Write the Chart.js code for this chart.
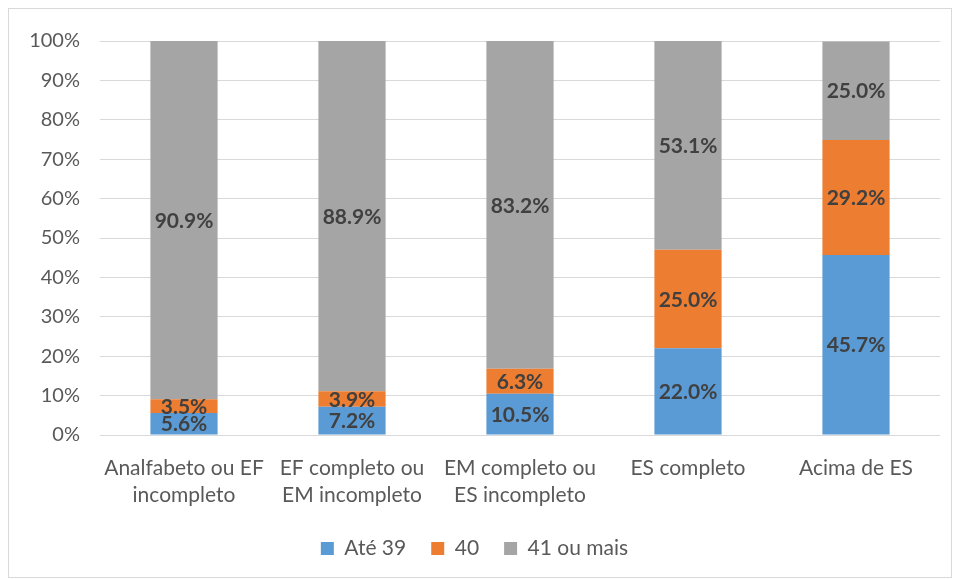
<!DOCTYPE html>
<html>
<head>
<meta charset="utf-8">
<script src="https://cdn.jsdelivr.net/npm/chart.js@4"></script>
<style>
  body { margin: 0; background: #fff; }
  #box { position: absolute; left: 8px; top: 8px; width: 942px; height: 568px; border: 1px solid #d9d9d9; }
</style>
</head>
<body>
<div id="box"><canvas id="grafico" width="942" height="568"></canvas></div>
<script>
// categorias e series
const categorias = [
  ["Analfabeto ou EF", "incompleto"],
  ["EF completo ou", "EM incompleto"],
  ["EM completo ou", "ES incompleto"],
  "ES completo",
  "Acima de ES"
];
const ate39 = [5.6, 7.2, 10.5, 22.0, 45.7];
const quarenta = [3.5, 3.9, 6.3, 25.0, 29.2];
const mais41 = [90.9, 88.9, 83.2, 53.1, 25.0];
const ticksY = [0, 10, 20, 30, 40, 50, 60, 70, 80, 90, 100];

const fonte = 'Lato, "Liberation Sans", sans-serif';

// rotulos dentro das barras
const rotulos = {
  id: "rotulos",
  afterDatasetsDraw(chart) {
    const ctx = chart.ctx;
    ctx.save();
    ctx.font = "bold 21px " + fonte;
    ctx.fillStyle = "#404040";
    ctx.textAlign = "center";
    ctx.textBaseline = "middle";
    chart.data.datasets.forEach((ds, i) => {
      chart.getDatasetMeta(i).data.forEach((bar, j) => {
        const y = (bar.y + bar.base) / 2;
        ctx.fillText(ds.data[j].toFixed(1) + "%", bar.x, y + 1);
      });
    });
    ctx.restore();
  }
};

new Chart(document.getElementById("grafico").getContext("2d"), {
  type: "bar",
  data: {
    labels: categorias,
    datasets: [
      { label: "Até 39", data: ate39, backgroundColor: "#5B9BD5" },
      { label: "40", data: quarenta, backgroundColor: "#ED7D31" },
      { label: "41 ou mais", data: mais41, backgroundColor: "#A5A5A5" }
    ]
  },
  options: {
    responsive: false,
    animation: false,
    layout: { padding: { top: 31, right: 11, left: 0, bottom: 8 } },
    datasets: { bar: { categoryPercentage: 1, barPercentage: 0.4 } },
    scales: {
      x: {
        stacked: true,
        grid: { display: false },
        border: { display: false },
        ticks: { color: "#595959", padding: 12, maxRotation: 0, font: { family: fonte, size: 21, lineHeight: 1.29 } },
        afterFit: s => { s.height = 78; }
      },
      y: {
        stacked: true,
        min: 0,
        max: 100,
        afterBuildTicks: s => { s.ticks = ticksY.map(v => ({ value: v })); },
        grid: { color: "#d9d9d9", drawTicks: false },
        border: { display: false },
        ticks: { color: "#595959", padding: 20, callback: v => v + "%", font: { family: fonte, size: 20 } },
        afterFit: s => { s.width = 91; }
      }
    },
    plugins: {
      legend: {
        position: "bottom",
        labels: { color: "#595959", boxWidth: 13, boxHeight: 13, padding: 25, font: { family: fonte, size: 21 } }
      },
      tooltip: { enabled: false }
    }
  },
  plugins: [rotulos]
});
</script>
</body>
</html>
